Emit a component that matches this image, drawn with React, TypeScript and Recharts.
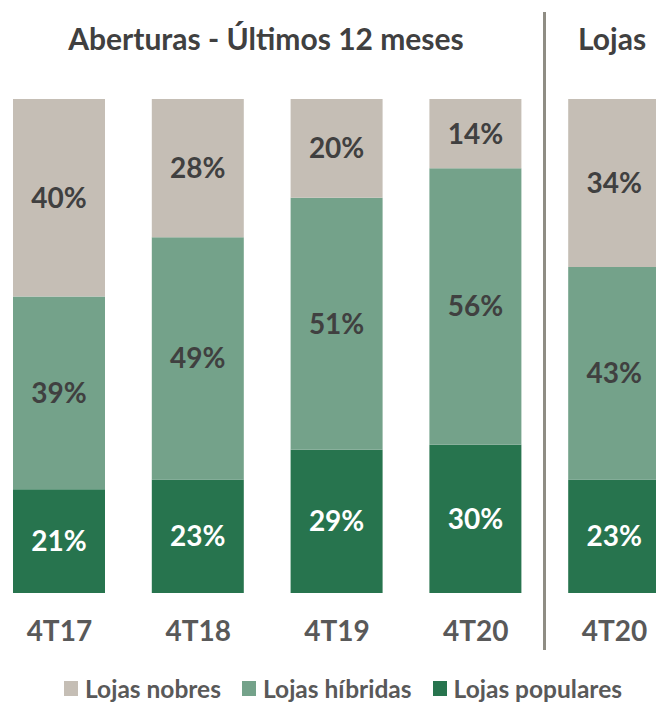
import { BarChart, Bar, XAxis, YAxis, LabelList } from "recharts";

const categories = ["4T17", "4T18", "4T19", "4T20", "4T20"];
const populares = [21, 23, 29, 30, 23];
const hibridas = [39, 49, 51, 56, 43];
const nobres = [40, 28, 20, 14, 34];

const COLORS = {
  nobres: "#C5BEB5",
  hibridas: "#74A28A",
  populares: "#27744E",
};

const FONT = "Lato, 'Open Sans', sans-serif";

const data = categories.map((name, i) => ({
  name,
  populares: populares[i],
  hibridas: hibridas[i],
  nobres: nobres[i],
}));

const legendItems = [
  { label: "Lojas nobres", color: COLORS.nobres },
  { label: "Lojas híbridas", color: COLORS.hibridas },
  { label: "Lojas populares", color: COLORS.populares },
];

const pct = (v: any) => `${v}%`;

const CategoryTick = ({ x, y, payload }: any) => (
  <text
    x={x}
    y={y}
    dy="0.71em"
    textAnchor="middle"
    fill="#595959"
    fontSize={28}
    fontWeight={700}
    fontFamily={FONT}
  >
    {payload.value}
  </text>
);

const labelStyle = { fontSize: 28, fontWeight: 700, fontFamily: FONT };

export default function App() {
  return (
    <div
      style={{
        position: "fixed",
        top: 0,
        left: 0,
        width: 656,
        height: 703,
        overflow: "hidden",
        background: "#fff",
        fontFamily: FONT,
      }}
    >
      <div
        style={{
          position: "absolute",
          left: 0,
          width: 532,
          top: 20,
          textAlign: "center",
          fontSize: 30,
          fontWeight: 700,
          color: "#404040",
        }}
      >
        Aberturas - Últimos 12 meses
      </div>
      <div
        style={{
          position: "absolute",
          left: 578,
          top: 20,
          fontSize: 30,
          fontWeight: 700,
          color: "#404040",
          whiteSpace: "nowrap",
        }}
      >
        Lojas
      </div>
      <div
        style={{
          position: "absolute",
          left: 543,
          top: 12,
          width: 3,
          height: 638,
          background: "#8F8D84",
        }}
      />
      <div style={{ position: "absolute", left: -10, top: 0 }}>
        <BarChart
          width={694}
          height={703}
          data={data}
          margin={{ top: 99, right: 0, bottom: 70, left: 0 }}
          barSize={92}
        >
          <XAxis
            dataKey="name"
            axisLine={false}
            tickLine={false}
            height={40}
            tickMargin={22}
            tick={<CategoryTick />}
            interval={0}
          />
          <YAxis hide domain={[0, 100]} />
          <Bar dataKey="populares" stackId="a" fill={COLORS.populares} isAnimationActive={false}>
            <LabelList dataKey="populares" position="center" formatter={pct} fill="#FFFFFF" style={labelStyle} />
          </Bar>
          <Bar dataKey="hibridas" stackId="a" fill={COLORS.hibridas} isAnimationActive={false}>
            <LabelList dataKey="hibridas" position="center" formatter={pct} fill="#404040" style={labelStyle} />
          </Bar>
          <Bar dataKey="nobres" stackId="a" fill={COLORS.nobres} isAnimationActive={false}>
            <LabelList dataKey="nobres" position="center" formatter={pct} fill="#404040" style={labelStyle} />
          </Bar>
        </BarChart>
      </div>
      <div
        style={{
          position: "absolute",
          left: 64,
          top: 674,
          display: "flex",
          gap: 21,
          fontSize: 24.5,
          fontWeight: 700,
          color: "#595959",
          whiteSpace: "nowrap",
        }}
      >
        {legendItems.map((it) => (
          <div key={it.label} style={{ display: "flex", alignItems: "center", gap: 7 }}>
            <span style={{ width: 14, height: 15, background: it.color, display: "inline-block" }} />
            <span>{it.label}</span>
          </div>
        ))}
      </div>
    </div>
  );
}
